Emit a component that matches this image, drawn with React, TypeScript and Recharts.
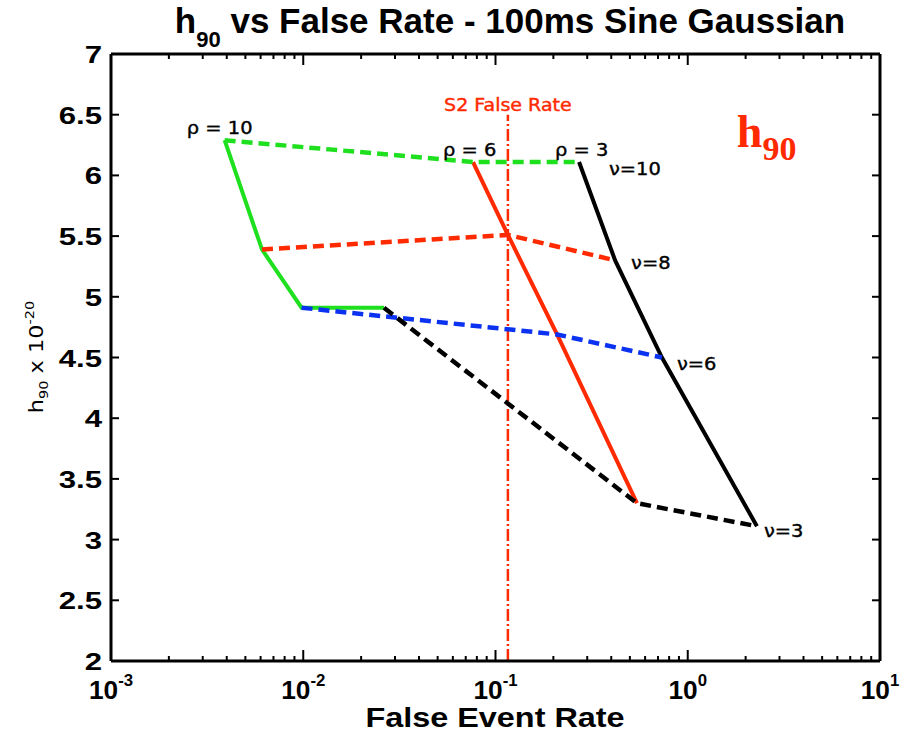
import React from 'react';
import { ComposedChart, Line, XAxis, YAxis, ReferenceLine, ReferenceDot, Customized } from 'recharts';

// nu values along each solid (constant rho) curve
const nuValues = [10, 8, 6, 3];
const rhoValues = [10, 6, 3];

// false event rate for each nu, one list per rho
const rateRho10 = [0.0039, 0.0061, 0.0098, 0.0263];
const rateRho6 = [0.0764, 0.116, 0.209, 0.544];
const rateRho3 = [0.272, 0.419, 0.734, 2.29];

// h90 (x 1e-20) for each nu, one list per rho
const hRho10 = [6.29, 5.39, 4.91, 4.91];
const hRho6 = [6.11, 5.51, 4.69, 3.3];
const hRho3 = [6.11, 5.3, 4.5, 3.11];

const s2FalseRate = 0.116;

const xMajorTicks = [0.001, 0.01, 0.1, 1, 10];
const xMinorSteps = [2, 3, 4, 5, 6, 7, 8, 9];
const yTicks = [2, 2.5, 3, 3.5, 4, 4.5, 5, 5.5, 6, 6.5, 7];

const rhoLabels = [
  { text: 'ρ = 10', x: 0.00248, y: 6.34 },
  { text: 'ρ = 6', x: 0.0533, y: 6.16 },
  { text: 'ρ = 3', x: 0.204, y: 6.16 },
];
const nuLabels = [
  { text: 'ν=10', x: 0.389, y: 6.0 },
  { text: 'ν=8', x: 0.507, y: 5.23 },
  { text: 'ν=6', x: 0.879, y: 4.4 },
  { text: 'ν=3', x: 2.49, y: 3.02 },
];

const GREEN = '#1fe01f';
const RED = '#ff2a00';
const BLUE = '#0a32f0';
const BLACK = '#000000';

const rhoColors = [GREEN, RED, BLACK];
const nuColors = [GREEN, RED, BLUE, BLACK];

const rates = [rateRho10, rateRho6, rateRho3];
const hs = [hRho10, hRho6, hRho3];

// solid curves: fixed rho, points for each nu
const rhoLines = rhoValues.map((rho, r) => ({
  rho,
  color: rhoColors[r],
  points: nuValues.map((nu, i) => ({ x: rates[r][i], y: hs[r][i] })),
}));

// dashed curves: fixed nu, points for each rho
const nuLines = nuValues.map((nu, i) => ({
  nu,
  color: nuColors[i],
  points: rhoValues.map((rho, r) => ({ x: rates[r][i], y: hs[r][i] })),
}));

const xTicks = [
  ...xMajorTicks,
  ...xMajorTicks.slice(0, -1).flatMap((d) => xMinorSteps.map((m) => +(m * d).toPrecision(6))),
].sort((a, b) => a - b);

const SANS = '"Liberation Sans", Arial, Helvetica, sans-serif';
const DEJA = '"DejaVu Sans", sans-serif';

const isMajor = (v: number) => Math.abs(Math.log10(v) - Math.round(Math.log10(v))) < 1e-6;

const BottomTick = ({ x, y, payload }: any) => {
  const v = payload.value;
  const major = isMajor(v);
  return (
    <g>
      <line x1={x} x2={x} y1={y} y2={y - (major ? 11 : 5)} stroke="#000" strokeWidth={2} />
      {major && (
        <text
          transform={`translate(${x},${y + 38}) scale(1.05,1)`}
          textAnchor="middle"
          fontFamily={SANS}
          fontWeight="bold"
          fontSize={25}
          fill="#000"
        >
          <tspan>10</tspan>
          <tspan fontSize={16} dy={-13}>{Math.round(Math.log10(v))}</tspan>
        </text>
      )}
    </g>
  );
};

const TopTick = ({ x, y, payload }: any) => {
  const major = isMajor(payload.value);
  return <line x1={x} x2={x} y1={y} y2={y + (major ? 11 : 5)} stroke="#000" strokeWidth={2} />;
};

const LeftTick = ({ x, y, payload }: any) => (
  <g>
    <line x1={x} x2={x + 8} y1={y} y2={y} stroke="#000" strokeWidth={2} />
    <text
      transform={`translate(${x - 9},${y + 9}) scale(1.3,1)`}
      textAnchor="end"
      fontFamily={SANS}
      fontWeight="bold"
      fontSize={24}
      fill="#000"
    >
      {String(payload.value)}
    </text>
  </g>
);

const RightTick = ({ x, y }: any) => (
  <line x1={x} x2={x - 8} y1={y} y2={y} stroke="#000" strokeWidth={2} />
);

const annoText = (text: string, anchor: string, fill = '#000', size = 18, sx = 1.08) => (p: any) => (
  <text
    transform={`translate(${p.cx},${p.cy}) scale(${sx},1)`}
    textAnchor={anchor}
    fontFamily={DEJA}
    fontSize={size}
    fill={fill}
    stroke={fill}
    strokeWidth={0.4}
  >
    {text}
  </text>
);

const RedH90 = (p: any) => (
  <text x={p.cx} y={p.cy} fontFamily='"Liberation Serif", "Times New Roman", serif' fontWeight="bold" fill={RED}>
    <tspan fontSize={46}>h</tspan>
    <tspan fontSize={34} dy={13}>90</tspan>
  </text>
);

const Titles = () => (
  <g>
    <text x={510} y={33} textAnchor="middle" fontFamily={SANS} fontWeight="bold" fontSize={35} fill="#000">
      <tspan>h</tspan>
      <tspan fontSize={22} dy={14}>90</tspan>
      <tspan dy={-14}> vs False Rate - 100ms Sine Gaussian</tspan>
    </text>
    <text
      transform="translate(495,727) scale(1.2,1)"
      textAnchor="middle"
      fontFamily={SANS}
      fontWeight="bold"
      fontSize={27}
      fill="#000"
    >
      False Event Rate
    </text>
    <text
      transform="translate(43,357) rotate(-90) scale(1.12,1)"
      textAnchor="middle"
      fontFamily={DEJA}
      fontSize={20}
      fill="#000"
    >
      <tspan>h</tspan>
      <tspan fontSize={13} dy={5}>90</tspan>
      <tspan dy={-5}> x 10</tspan>
      <tspan fontSize={13} dy={-9}>-20</tspan>
    </text>
  </g>
);

export default function App() {
  return (
    <div style={{ position: 'absolute', left: 0, top: 0, background: '#fff' }}>
      <ComposedChart width={908} height={732} margin={{ top: 0, right: 0, bottom: 0, left: 0 }}>
        <XAxis
          dataKey="x"
          type="number"
          scale="log"
          domain={[0.001, 10]}
          ticks={xTicks}
          interval={0}
          allowDataOverflow
          height={71}
          tickSize={0}
          tickMargin={0}
          tickLine={false}
          axisLine={{ stroke: '#000', strokeWidth: 3 }}
          tick={<BottomTick />}
        />
        <XAxis
          xAxisId="top"
          orientation="top"
          dataKey="x"
          type="number"
          scale="log"
          domain={[0.001, 10]}
          ticks={xTicks}
          interval={0}
          allowDataOverflow
          height={54}
          tickSize={0}
          tickMargin={0}
          tickLine={false}
          axisLine={{ stroke: '#000', strokeWidth: 3 }}
          tick={<TopTick />}
        />
        <YAxis
          type="number"
          domain={[2, 7]}
          ticks={yTicks}
          interval={0}
          allowDataOverflow
          width={111}
          tickSize={0}
          tickMargin={0}
          tickLine={false}
          axisLine={{ stroke: '#000', strokeWidth: 3 }}
          tick={<LeftTick />}
        />
        <YAxis
          yAxisId="right"
          orientation="right"
          type="number"
          domain={[2, 7]}
          ticks={yTicks}
          interval={0}
          allowDataOverflow
          width={28}
          tickSize={0}
          tickMargin={0}
          tickLine={false}
          axisLine={{ stroke: '#000', strokeWidth: 3 }}
          tick={<RightTick />}
        />

        <ReferenceLine
          segment={[{ x: s2FalseRate, y: 2 }, { x: s2FalseRate, y: 6.5 }]}
          stroke={RED}
          strokeWidth={2.5}
          strokeDasharray="12 3 2 3"
        />

        {rhoLines.map((s) => (
          <Line
            key={`rho${s.rho}`}
            data={s.points}
            dataKey="y"
            type="linear"
            stroke={s.color}
            strokeWidth={4}
            dot={false}
            activeDot={false}
            isAnimationActive={false}
          />
        ))}
        {nuLines.map((s) => (
          <Line
            key={`nu${s.nu}`}
            data={s.points}
            dataKey="y"
            type="linear"
            stroke={s.color}
            strokeWidth={4.5}
            strokeDasharray="11 6"
            dot={false}
            activeDot={false}
            isAnimationActive={false}
          />
        ))}

        {rhoLabels.concat(nuLabels).map((l) => (
          <ReferenceDot key={l.text} x={l.x} y={l.y} r={1} shape={annoText(l.text, 'start')} />
        ))}
        <ReferenceDot x={s2FalseRate} y={6.53} r={1} shape={annoText('S2 False Rate', 'middle', RED, 17, 1.12)} />
        <ReferenceDot x={1.8} y={6.234} r={1} shape={RedH90} />

        <Customized component={Titles} />
      </ComposedChart>
    </div>
  );
}
